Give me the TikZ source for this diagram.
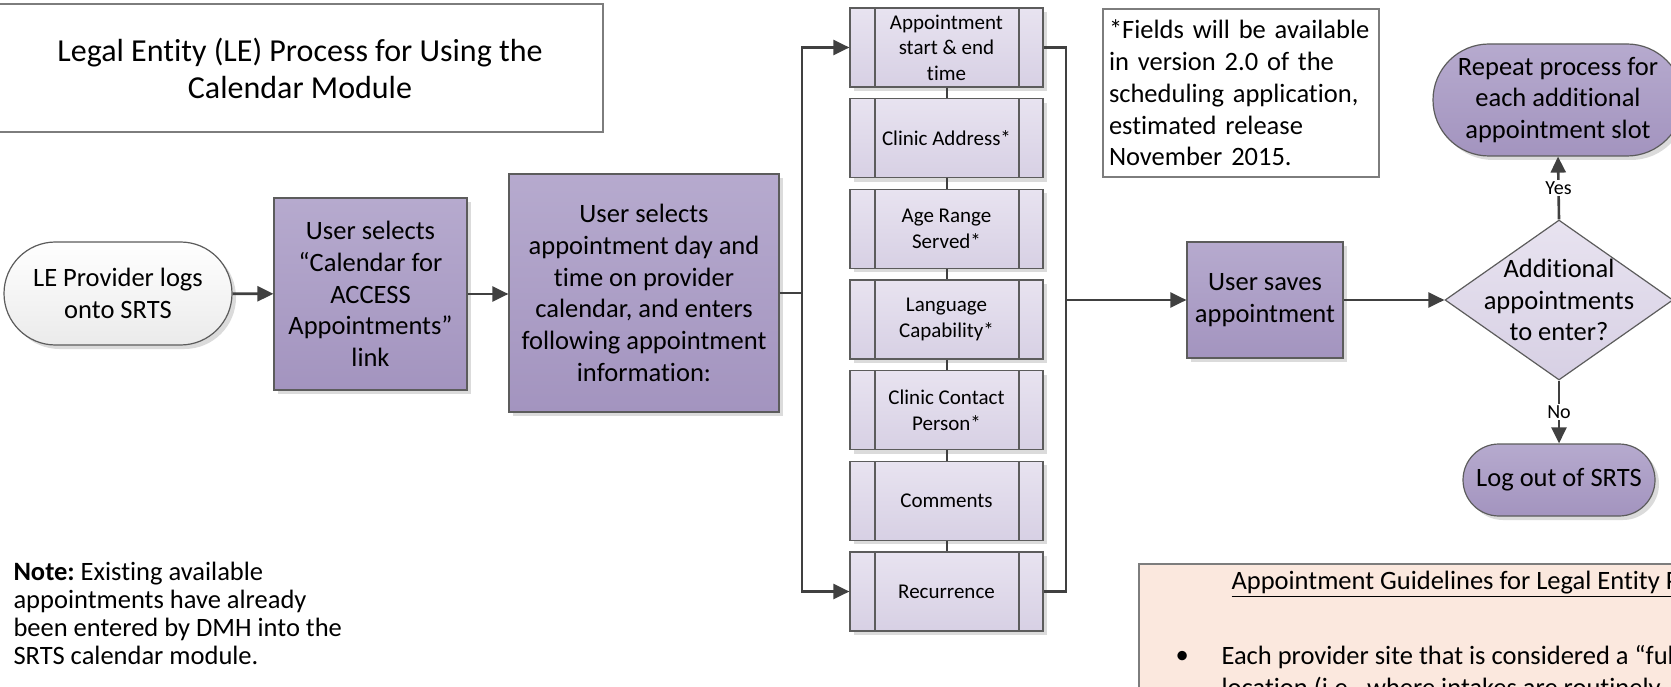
\documentclass[tikz,border=0pt]{standalone}
\usepackage{fontspec}
\setmainfont{Carlito}[Ligatures=NoCommon]
\usetikzlibrary{arrows.meta,shapes.geometric,shapes.misc,shadows}
\definecolor{linegray}{RGB}{64,64,64}
\definecolor{bordergray}{RGB}{92,92,92}
\definecolor{purpletop}{RGB}{182,170,206}
\definecolor{purplebot}{RGB}{163,148,191}
\definecolor{lavtop}{RGB}{232,227,240}
\definecolor{lavbot}{RGB}{215,208,228}
\definecolor{peach}{RGB}{251,232,222}
\frenchspacing
\tikzset{
	flow/.style={draw=linegray, line width=2.6pt, -{Triangle[length=16pt,width=15pt]}},
	link/.style={draw=linegray, line width=2.6pt},
	stack/.style={draw=linegray, line width=2pt},
	bigtext/.style={font=\fontsize{26.5}{31.7}\selectfont, align=center},
	shade/.style={drop shadow={shadow xshift=4pt, shadow yshift=-4pt, fill=black!14, opacity=1}},
	procbox/.style={bigtext, shade, draw=bordergray, line width=1.2pt, top color=purpletop, bottom color=purplebot, inner sep=0pt},
	endbox/.style={procbox, rounded rectangle, rounded rectangle arc length=180},
	field/.style={shade, draw=bordergray, line width=1.2pt, top color=lavtop, bottom color=lavbot, minimum width=193pt, minimum height=79pt, inner sep=0pt, align=center, font=\fontsize{21}{25.5}\selectfont,
		path picture={
			\draw[bordergray, line width=1.2pt] ([xshift=25pt]path picture bounding box.north west) -- ([xshift=25pt]path picture bounding box.south west);
			\draw[bordergray, line width=1.2pt] ([xshift=-24pt]path picture bounding box.north east) -- ([xshift=-24pt]path picture bounding box.south east);
		}},
	decision/.style={diamond, draw=bordergray, line width=1.2pt, top color=lavtop, bottom color=lavbot, minimum width=228pt, minimum height=160pt, inner sep=0pt},
	answer/.style={fill=white, inner sep=1.5pt, font=\fontsize{20}{24}\selectfont},
	framebox/.style={draw=bordergray!80, line width=1.2pt, fill=white}
}

\begin{document}
\begin{tikzpicture}[x=1pt, y=-1pt]
				\useasboundingbox (0,0) rectangle (1671,687);
				\clip (0,0) rectangle (1671,687);
				
				\node[framebox, minimum width=606pt, minimum height=128pt, font=\fontsize{32}{37}\selectfont, align=center] (title) at (300,68) {Legal Entity (LE) Process for Using the\\Calendar Module};
				
				\node[bigtext, shade, rounded rectangle, rounded rectangle arc length=180, draw=bordergray, line width=1.2pt, top color=white, bottom color=black!8, minimum width=228pt, minimum height=103pt, inner sep=0pt] (start) at (118,293.5) {LE Provider logs\\onto SRTS};
				\node[procbox, minimum width=193pt, minimum height=192pt] (select) at (370.5,294) {User selects\\“Calendar for\\ACCESS\\Appointments”\\link};
				\node[procbox, minimum width=270pt, minimum height=238pt] (enter) at (644,293) {User selects\\appointment day and\\time on provider\\calendar, and enters\\following appointment\\information:};
				
				\node[field] (f1) at (946.5,47.5) {Appointment\\start \& end\\time};
				\node[field] (f2) at (946.5,138.2) {Clinic Address*};
				\node[field] (f3) at (946.5,228.8) {Age Range\\Served*};
				\node[field] (f4) at (946.5,319.5) {Language\\Capability*};
				\node[field] (f5) at (946.5,410.2) {Clinic Contact\\Person*};
				\node[field] (f6) at (946.5,500.8) {Comments};
				\node[field] (f7) at (946.5,591.5) {Recurrence};
				
				\node[framebox, minimum width=276pt, minimum height=168pt, text width=264pt, inner sep=6pt, align=left, font=\fontsize{26.5}{31.7}\selectfont] (fields) at (1241,93) {*Fields will be available\\in version 2.0 of the\\scheduling application,\\estimated release\\November 2015.};
				
				\node[procbox, minimum width=156pt, minimum height=116pt] (save) at (1265,300) {User saves\\appointment};
				\node[decision, label={[bigtext]center:Additional\\appointments\\to enter?}] (more) at (1559,300) {};
				\node[endbox, minimum width=250pt, minimum height=112pt] (repeat) at (1558,100) {Repeat process for\\each additional\\appointment slot};
				\node[endbox, minimum width=192pt, minimum height=72pt] (logout) at (1559,480) {Log out of SRTS};
				
				\coordinate (busl) at (802,293);
				\coordinate (busr) at (1066,300);
				
				\draw[flow] (start) -- (select);
				\draw[flow] (select.east) -- (select.east -| enter.west);
				\draw[link] (enter.east) -- (enter.east -| busl);
				\draw[flow] (enter.east -| busl) |- (f1.west);
				\draw[flow] (enter.east -| busl) |- (f7.west);
				
				\draw[stack] (f1.south) -- (f2.north);
				\draw[stack] (f2.south) -- (f3.north);
				\draw[stack] (f3.south) -- (f4.north);
				\draw[stack] (f4.south) -- (f5.north);
				\draw[stack] (f5.south) -- (f6.north);
				\draw[stack] (f6.south) -- (f7.north);
				
				\draw[link] (f1.east) -| (busr) |- (f7.east);
				\draw[flow] (busr) -- (save.west);
				\draw[flow] (save.east) -- (more.west);
				\draw[flow] (more.north) -- node[answer] {Yes} (repeat.south);
				\draw[flow] (more.south) -- node[answer] {No} (logout.north);
				
				\node[anchor=west, align=left, font=\fontsize{26.5}{28}\selectfont] (note) at (10,613) {\textbf{Note:} Existing available\\appointments have already\\been entered by DMH into the\\SRTS calendar module.};
				
				\draw[draw=bordergray!80, line width=1.2pt, fill=peach] (1139,564) rectangle (1720,740);
				\node[anchor=west, font=\fontsize{26.5}{31.7}\selectfont] (rules) at (1228,584) {\underline{Appointment Guidelines for Legal Entity Providers}};
				\node[anchor=west, font=\fontsize{26.5}{31.7}\selectfont] (dot) at (1172,657) {•};
				\node[anchor=west, align=left, font=\fontsize{26.5}{31.7}\selectfont] (rule1) at (1218,673) {Each provider site that is considered a “full-service”\\location (i.e., where intakes are routinely};
\end{tikzpicture}
\end{document}
